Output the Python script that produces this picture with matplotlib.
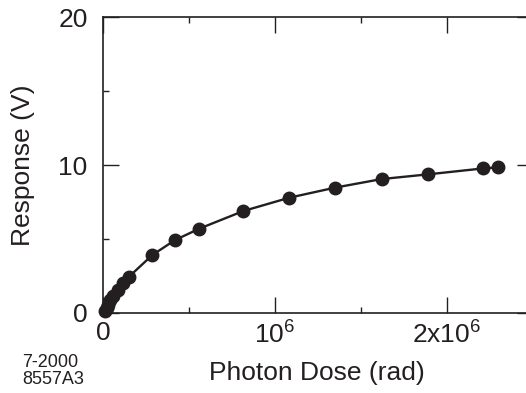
import matplotlib
matplotlib.use("Agg")
import matplotlib.pyplot as plt
import matplotlib.ticker as ticker

plt.rcParams["font.family"] = ["Liberation Sans", "DejaVu Sans"]
plt.rcParams["mathtext.default"] = "regular"

# dose (rad) vs response (V)
dose = [0.010e6, 0.021e6, 0.027e6, 0.041e6, 0.060e6, 0.085e6, 0.118e6, 0.151e6,
        0.287e6, 0.419e6, 0.56e6, 0.816e6, 1.083e6, 1.349e6, 1.620e6,
        1.891e6, 2.211e6, 2.295e6]
response = [0.15, 0.34, 0.54, 0.88, 1.15, 1.55, 2.00, 2.45,
            3.92, 4.93, 5.70, 6.89, 7.79, 8.47, 9.05,
            9.37, 9.77, 9.84]

xticks = [0, 1e6, 2e6]
xtick_labels = ["0", "$10^6$", "$2x10^6$"]
yticks = [0, 10, 20]

INK = "#231f20"

fig = plt.figure(figsize=(5.26, 3.93), dpi=100)
ax = fig.add_axes([103 / 526, 80 / 393, 430 / 526, 296 / 393])

ax.plot(dose, response, color=INK, linewidth=1.7, marker="o",
        markersize=9, markerfacecolor=INK, markeredgecolor=INK,
        clip_on=False, zorder=3)

ax.set_xlim(0, 2.5e6)
ax.set_ylim(0, 20)
ax.set_xticks(xticks)
ax.set_xticklabels(xtick_labels)
ax.set_yticks(yticks)
ax.xaxis.set_minor_locator(ticker.MultipleLocator(0.5e6))
ax.yaxis.set_minor_locator(ticker.MultipleLocator(5))

ax.tick_params(which="both", direction="in", top=True, right=True,
               color=INK, labelcolor=INK, labelsize=19)
ax.tick_params(which="major", length=11.5, width=1.0, pad=6)
ax.tick_params(axis="y", which="major", pad=11)
ax.tick_params(which="minor", length=4, width=1.0)

for s in ax.spines.values():
    s.set_linewidth(1.2)
    s.set_color(INK)

ax.set_xlabel("Photon Dose (rad)", fontsize=19, color=INK)
ax.set_ylabel("Response (V)", fontsize=19, color=INK)
ax.xaxis.set_label_coords((317 - 103) / 430, -(361 - 313) / 296)
ax.yaxis.set_label_coords(-(103 - 35) / 430, (313 - 165) / 296)

fig.text(22 / 526, 1 - 371 / 393, "7-2000\n8557A3", fontsize=13,
         color=INK, ha="left", va="center", linespacing=1.0)

fig.savefig("out.png", dpi=100)
